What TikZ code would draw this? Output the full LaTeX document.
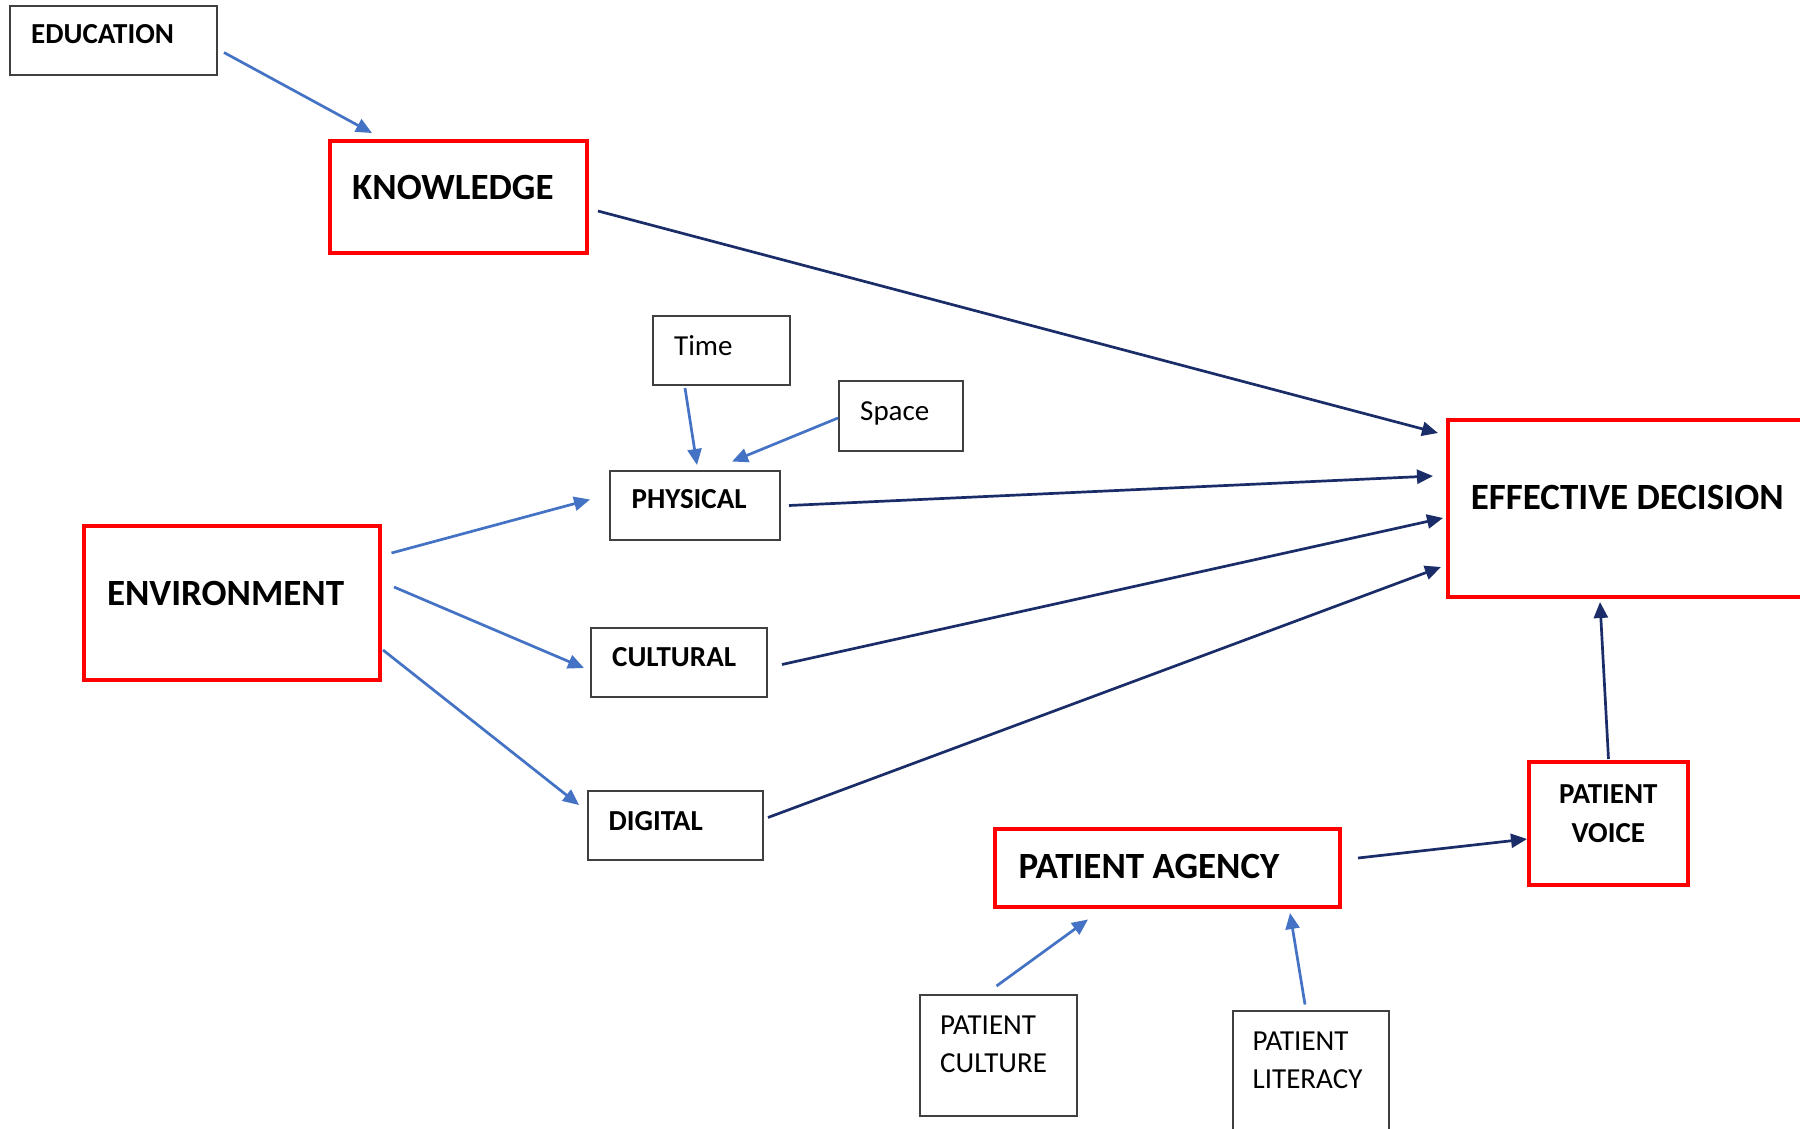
\documentclass[tikz,border=0pt]{standalone}
\usepackage{fontspec}
\setmainfont{Carlito}
\usetikzlibrary{arrows.meta}
\definecolor{linkblue}{RGB}{68,114,196}
\definecolor{linknavy}{RGB}{26,45,105}
\definecolor{boxred}{RGB}{255,0,0}
\tikzset{
  plainbox/.style={draw=black!75, line width=1.5pt, anchor=north west, inner sep=0pt, outer sep=0pt},
  keybox/.style={draw=boxred, line width=4.8pt, anchor=north west, inner sep=0pt, outer sep=0pt},
  biglab/.style={anchor=base west, inner sep=0pt, font=\fontsize{37}{44}\selectfont\bfseries},
  smalllab/.style={anchor=base west, inner sep=0pt, font=\fontsize{29}{35}\selectfont\bfseries},
  thinlab/.style={anchor=base west, inner sep=0pt, font=\fontsize{29}{35}\selectfont},
  feed/.style={linkblue, line width=2.7pt, -{Triangle[length=16pt,width=14pt]}},
  lead/.style={linknavy, line width=2.7pt, -{Triangle[length=16pt,width=14pt]}},
}
\begin{document}
\begin{tikzpicture}[x=1pt, y=-1pt]
\clip (0,0) rectangle (1800,1128);
\fill[white] (0,0) rectangle (1800,1128);

% boxes
\node[plainbox, minimum width=207pt, minimum height=69pt] (edu) at (10,6) {};
\node[keybox, minimum width=257pt, minimum height=112pt] (know) at (330,141) {};
\node[keybox, minimum width=372pt, minimum height=177pt] (eff) at (1448,420) {};
\node[plainbox, minimum width=137pt, minimum height=69pt] (time) at (653,316) {};
\node[plainbox, minimum width=124pt, minimum height=70pt] (space) at (839,381) {};
\node[plainbox, minimum width=170pt, minimum height=69pt] (phys) at (610,471) {};
\node[keybox, minimum width=296pt, minimum height=154pt] (env) at (84,526) {};
\node[plainbox, minimum width=176pt, minimum height=69pt] (cult) at (591,628) {};
\node[plainbox, minimum width=175pt, minimum height=69pt] (dig) at (588,791) {};
\node[keybox, minimum width=345pt, minimum height=78pt] (agency) at (995,829) {};
\node[keybox, minimum width=159pt, minimum height=123pt] (voice) at (1529,762) {};
\node[plainbox, minimum width=157pt, minimum height=121pt] (pcult) at (920,995) {};
\node[plainbox, minimum width=156pt, minimum height=140pt] (plit) at (1233,1011) {};

% labels
\node[smalllab] (edu-l) at (31,43.7) {EDUCATION};
\node[biglab] (know-l) at (352,199) {KNOWLEDGE};
\node[biglab] (eff-l) at (1470.6,509) {EFFECTIVE DECISION};
\node[thinlab] (time-l) at (674,355) {Time};
\node[thinlab] (space-l) at (860,420) {Space};
\node[smalllab] (phys-l) at (631.4,508.7) {PHYSICAL};
\node[biglab] (env-l) at (106.8,605.4) {ENVIRONMENT};
\node[smalllab] (cult-l) at (612,666) {CULTURAL};
\node[smalllab] (dig-l) at (608.4,830) {DIGITAL};
\node[biglab] (agency-l) at (1018.3,878.6) {PATIENT AGENCY};
\node[smalllab, anchor=base] (voice-l1) at (1608.3,803.7) {PATIENT};
\node[smalllab, anchor=base] (voice-l2) at (1608.3,842.8) {VOICE};
\node[thinlab] (pcult-l1) at (940,1034.3) {PATIENT};
\node[thinlab] (pcult-l2) at (940,1072.3) {CULTURE};
\node[thinlab] (plit-l1) at (1252.5,1050.3) {PATIENT};
\node[thinlab] (plit-l2) at (1252.5,1088.3) {LITERACY};

% light blue feeder arrows
\draw[feed] ([shift={(7,12)}]edu.east) -- ([shift={(42,-8)}]know.north west);
\draw[feed] ([shift={(32,3)}]time.south west) -- ([shift={(87,-6)}]phys.north west);
\draw[feed] ([shift={(-1,2)}]space.west) -- ([shift={(122,-9.5)}]phys.north west);
\draw[feed] ([shift={(11.5,27)}]env.north east) -- ([shift={(-20,-6)}]phys.west);
\draw[feed] ([shift={(14,61)}]env.north east) -- ([shift={(-7,5.5)}]cult.west);
\draw[feed] ([shift={(3,124)}]env.north east) -- ([shift={(-9,-20.5)}]dig.west);
\draw[feed] ([shift={(-2,-9)}]pcult.north) -- ([shift={(93,12.5)}]agency.south west);
\draw[feed] ([shift={(72,-6.5)}]plit.north west) -- ([shift={(295,6)}]agency.south west);

% navy arrows towards the decision
\draw[lead] ([shift={(11,14)}]know.east) -- ([shift={(-10,13)}]eff.north west);
\draw[lead] ([shift={(9,0)}]phys.east) -- ([shift={(-15,56)}]eff.north west);
\draw[lead] ([shift={(15,2)}]cult.east) -- ([shift={(-5,98)}]eff.north west);
\draw[lead] ([shift={(5,-8)}]dig.east) -- ([shift={(-7,147)}]eff.north west);
\draw[lead] ([shift={(0,-3)}]voice.north) -- ([shift={(152,5)}]eff.south west);
\draw[lead] ([shift={(18,-10)}]agency.east) -- ([shift={(-2,15.5)}]voice.west);
\end{tikzpicture}
\end{document}
